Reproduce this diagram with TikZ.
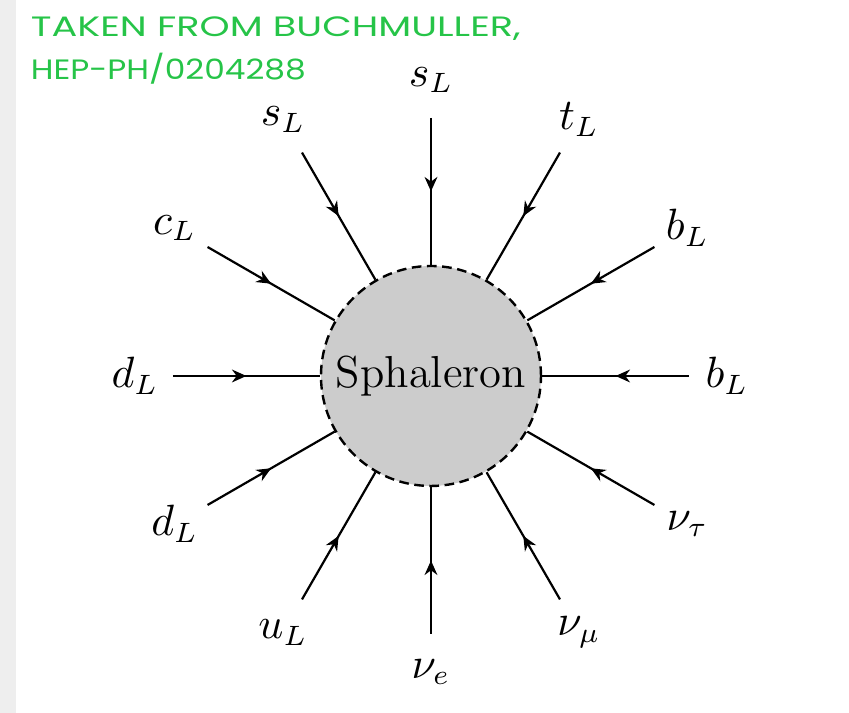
\documentclass[tikz,border=0pt]{standalone}
\usepackage{fontspec}
\usepackage{graphicx}
\newfontfamily\notefont{Poppins}
\usetikzlibrary{arrows.meta,decorations.markings}
\definecolor{notegreen}{RGB}{38,196,72}
\definecolor{stripgray}{RGB}{238,238,238}
\begin{document}
\begin{tikzpicture}[x=0.25pt,y=0.25pt,
  leg/.style={line width=0.55pt,
    postaction={decorate},
    decoration={markings,mark=at position 0.5 with {\arrow{Stealth[length=3.6pt,width=3.2pt]}}}},
  lbl/.style={inner sep=0pt,font=\fontsize{10.5}{12}\selectfont},
  blob/.style={circle,draw,dash pattern=on 2.4pt off 1.4pt,line width=0.6pt,
    fill=black!20,minimum size=55pt,inner sep=0pt,font=\fontsize{11.2}{13}\selectfont},
  note/.style={anchor=base west,inner sep=0pt,text=notegreen,font=\fontsize{7}{8}\notefont}]
\useasboundingbox (-431,-337) rectangle (418,376);
\fill[stripgray] (-431,-337) rectangle (-415,376);
\node[blob] (sph) at (0,0) {Sphaleron};
\foreach \name/\ang/\txt in {a/90/s_L, b/120/s_L, c/150/c_L, d/180/d_L, e/210/d_L, f/240/u_L,
  g/270/\nu_e, h/300/\nu_\mu, i/330/\nu_\tau, j/0/b_L, k/30/b_L, l/60/t_L}{
  \coordinate (o\name) at (\ang:258);
  \node[lbl] (t\name) at (\ang:296) {$\txt$};
  \draw[leg] (o\name) -- (sph);
}
\node[note] (n1) at (-401,339) {\resizebox{122.5pt}{\height}{TAKEN FROM BUCHMULLER,}};
\node[note] (n2) at (-401,296) {\resizebox{68.75pt}{\height}{HEP-PH/0204288}};
\end{tikzpicture}
\end{document}
